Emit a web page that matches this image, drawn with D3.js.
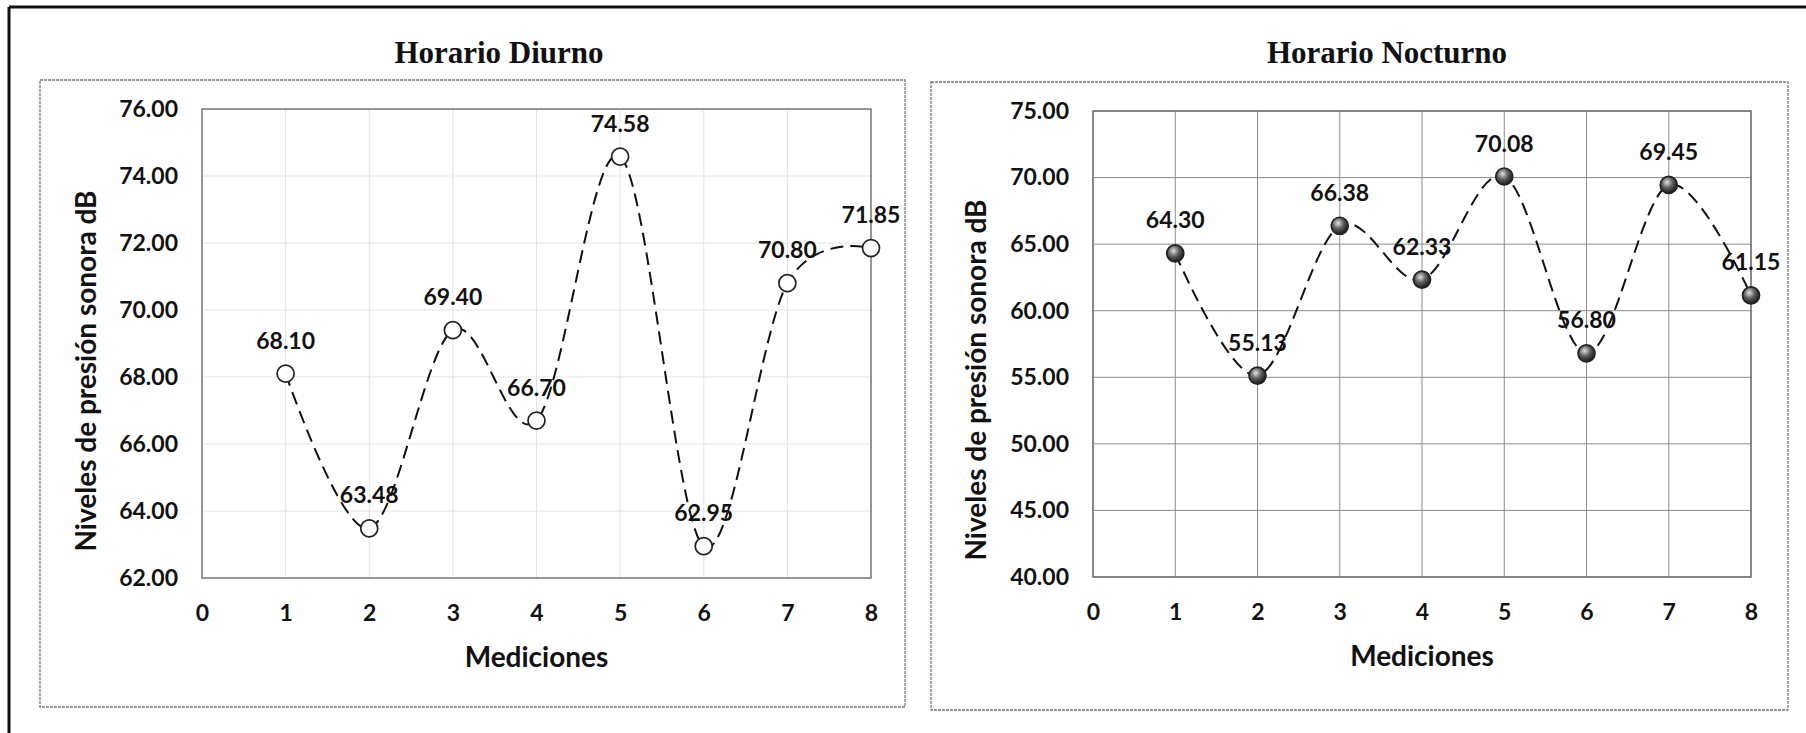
<!DOCTYPE html>
<html>
<head>
<meta charset="utf-8">
<script src="https://cdn.jsdelivr.net/npm/d3@7"></script>
<style>
  html, body { margin: 0; padding: 0; background: #fff; }
  svg { display: block; }
  text { fill: #111; }
</style>
</head>
<body>
<svg id="chart" width="1806" height="733"></svg>
<script>
// Mediciones 1..8
const mediciones = [1, 2, 3, 4, 5, 6, 7, 8];
// Niveles de presión sonora (dB)
const diurno   = [68.10, 63.48, 69.40, 66.70, 74.58, 62.95, 70.80, 71.85];
const nocturno = [64.30, 55.13, 66.38, 62.33, 70.08, 56.80, 69.45, 61.15];
// Ejes
const xTicks = [0, 1, 2, 3, 4, 5, 6, 7, 8];
const diurnoTicks = [62, 64, 66, 68, 70, 72, 74, 76];
const nocturnoTicks = [40, 45, 50, 55, 60, 65, 70, 75];
const titulos = ["Horario Diurno", "Horario Nocturno"];
const ejeX = "Mediciones";
const ejeY = "Niveles de presión sonora dB";

const svg = d3.select("#chart");
const defs = svg.append("defs");

// shaded ball marker for the night chart
const grad = defs.append("radialGradient")
  .attr("id", "ball").attr("cx", "40%").attr("cy", "35%").attr("r", "65%");
grad.append("stop").attr("offset", "0%").attr("stop-color", "#e0e0e0");
grad.append("stop").attr("offset", "50%").attr("stop-color", "#5e5e5e");
grad.append("stop").attr("offset", "100%").attr("stop-color", "#1a1a1a");

// page frame lines
svg.append("line").attr("x1", 9).attr("x2", 1806).attr("y1", 7).attr("y2", 7)
  .attr("stroke", "#111").attr("stroke-width", 3);
svg.append("line").attr("x1", 9).attr("x2", 9).attr("y1", 7).attr("y2", 733)
  .attr("stroke", "#111").attr("stroke-width", 3);

const panels = [
  {
    title: titulos[0], values: diurno, yTicks: diurnoTicks,
    titleX: 499,
    box: { x0: 40, y0: 80, x1: 905, y1: 707 },
    plot: { x0: 202, y0: 109, x1: 871, y1: 578 },
    gridColor: "#e4e4e4", filled: false, yTitleX: 96, yTitleY: 371
  },
  {
    title: titulos[1], values: nocturno, yTicks: nocturnoTicks,
    titleX: 1387,
    box: { x0: 931, y0: 82, x1: 1788, y1: 710 },
    plot: { x0: 1093, y0: 111, x1: 1751, y1: 577 },
    gridColor: "#8c8c8c", filled: true, yTitleX: 986, yTitleY: 380
  }
];

panels.forEach(p => {
  const g = svg.append("g");
  const x = d3.scaleLinear().domain([xTicks[0], xTicks[xTicks.length - 1]])
    .range([p.plot.x0, p.plot.x1]);
  const y = d3.scaleLinear().domain([p.yTicks[0], p.yTicks[p.yTicks.length - 1]])
    .range([p.plot.y1, p.plot.y0]);

  // chart area frame
  g.append("rect")
    .attr("x", p.box.x0).attr("y", p.box.y0)
    .attr("width", p.box.x1 - p.box.x0).attr("height", p.box.y1 - p.box.y0)
    .attr("fill", "none").attr("stroke", "#777").attr("stroke-width", 1.3)
    .attr("stroke-dasharray", "3,1");

  // title
  g.append("text")
    .attr("x", p.titleX).attr("y", 63)
    .attr("text-anchor", "middle")
    .style("font-family", "'Liberation Serif', 'Times New Roman', serif")
    .style("font-weight", "bold").style("font-size", "31px")
    .text(p.title);

  // grid
  g.append("g").selectAll("line.h").data(p.yTicks).join("line")
    .attr("x1", p.plot.x0).attr("x2", p.plot.x1)
    .attr("y1", d => y(d)).attr("y2", d => y(d))
    .attr("stroke", p.gridColor).attr("stroke-width", 1);
  g.append("g").selectAll("line.v").data(xTicks).join("line")
    .attr("x1", d => x(d)).attr("x2", d => x(d))
    .attr("y1", p.plot.y0).attr("y2", p.plot.y1)
    .attr("stroke", p.gridColor).attr("stroke-width", 1);

  // plot frame
  g.append("rect")
    .attr("x", p.plot.x0).attr("y", p.plot.y0)
    .attr("width", p.plot.x1 - p.plot.x0).attr("height", p.plot.y1 - p.plot.y0)
    .attr("fill", "none").attr("stroke", "#666").attr("stroke-width", 1.3);

  // axes
  const yAxis = g.append("g").attr("transform", `translate(${p.plot.x0},0)`)
    .call(d3.axisLeft(y).tickValues(p.yTicks).tickFormat(d3.format(".2f"))
      .tickSize(0).tickPadding(24));
  const xAxis = g.append("g").attr("transform", `translate(0,${p.plot.y1})`)
    .call(d3.axisBottom(x).tickValues(xTicks).tickFormat(d3.format("d"))
      .tickSize(0).tickPadding(27));
  [yAxis, xAxis].forEach(a => {
    a.select(".domain").remove();
    a.selectAll("text")
      .style("font-family", "Lato, sans-serif").style("font-weight", "bold")
      .style("font-size", "23px").attr("fill", "#111");
  });

  // axis titles
  g.append("text")
    .attr("x", (p.plot.x0 + p.plot.x1) / 2).attr("y", p.plot.y1 + 89)
    .attr("text-anchor", "middle")
    .style("font-family", "Lato, sans-serif").style("font-weight", "bold")
    .style("font-size", "28px")
    .text(ejeX);
  g.append("text")
    .attr("transform", `translate(${p.yTitleX},${p.yTitleY}) rotate(-90)`)
    .attr("text-anchor", "middle")
    .style("font-family", "Lato, sans-serif").style("font-weight", "bold")
    .style("font-size", "28px")
    .text(ejeY);

  // smoothed dashed series line
  const pts = mediciones.map((m, i) => [m, p.values[i]]);
  const line = d3.line().x(d => x(d[0])).y(d => y(d[1]))
    .curve(d3.curveCatmullRom.alpha(0));
  g.append("path").datum(pts)
    .attr("d", line)
    .attr("fill", "none").attr("stroke", "#111").attr("stroke-width", 2)
    .attr("stroke-dasharray", "13,7");

  // markers
  g.append("g").selectAll("circle").data(pts).join("circle")
    .attr("cx", d => x(d[0])).attr("cy", d => y(d[1]))
    .attr("r", 8.5)
    .attr("fill", p.filled ? "url(#ball)" : "#fff")
    .attr("stroke", "#222").attr("stroke-width", 1.7);

  // value labels
  g.append("g").selectAll("text").data(pts).join("text")
    .attr("x", d => x(d[0])).attr("y", d => y(d[1]) - 25)
    .attr("text-anchor", "middle")
    .style("font-family", "Lato, sans-serif").style("font-weight", "bold")
    .style("font-size", "23px")
    .text(d => d[1].toFixed(2));
});
</script>
</body>
</html>
